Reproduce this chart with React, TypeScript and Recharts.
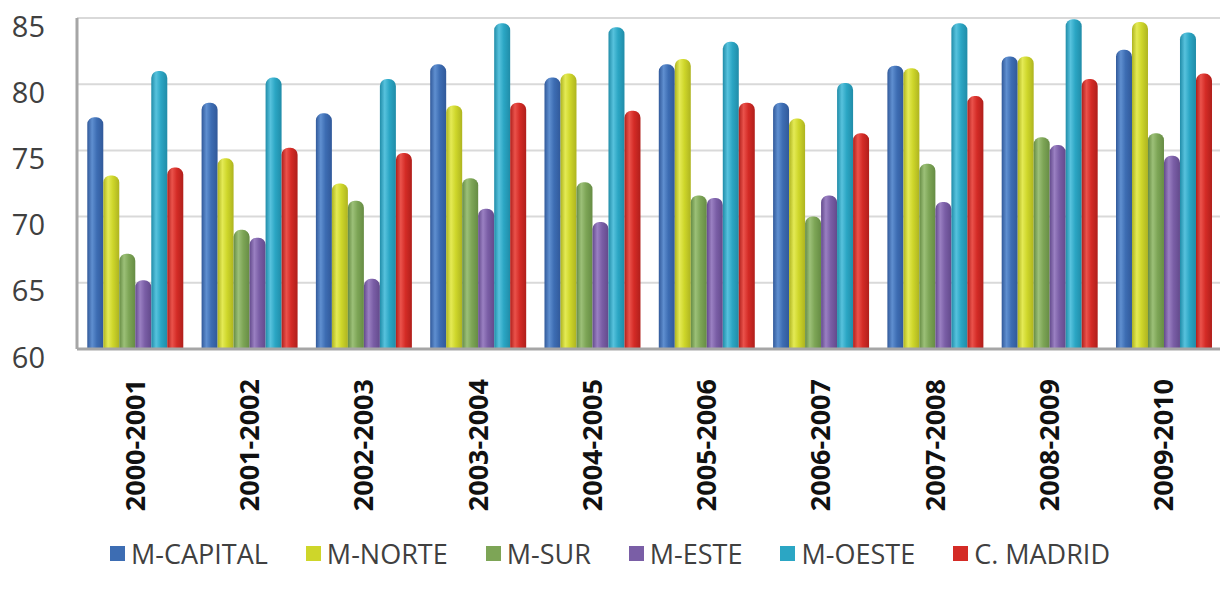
import React from "react";
import { BarChart, Bar, XAxis, YAxis, CartesianGrid, Legend } from "recharts";

const categories = ["2000-2001", "2001-2002", "2002-2003", "2003-2004", "2004-2005", "2005-2006", "2006-2007", "2007-2008", "2008-2009", "2009-2010"];
const mCapital = [77.5, 78.6, 77.8, 81.5, 80.5, 81.5, 78.6, 81.4, 82.1, 82.6];
const mNorte = [73.1, 74.4, 72.5, 78.4, 80.8, 81.9, 77.4, 81.2, 82.1, 84.7];
const mSur = [67.2, 69.0, 71.2, 72.9, 72.6, 71.6, 70.0, 74.0, 76.0, 76.3];
const mEste = [65.2, 68.4, 65.3, 70.6, 69.6, 71.4, 71.6, 71.1, 75.4, 74.6];
const mOeste = [81.0, 80.5, 80.4, 84.6, 84.3, 83.2, 80.1, 84.6, 84.9, 83.9];
const cMadrid = [73.7, 75.2, 74.8, 78.6, 78.0, 78.6, 76.3, 79.1, 80.4, 80.8];
const yTicks = [60, 65, 70, 75, 80, 85];

const seriesNames = ["M-CAPITAL", "M-NORTE", "M-SUR", "M-ESTE", "M-OESTE", "C. MADRID"];
const seriesValues = [mCapital, mNorte, mSur, mEste, mOeste, cMadrid];
const seriesKeys = ["cap", "norte", "sur", "este", "oeste", "madrid"];
const colors = ["#3D6DB3", "#CED62A", "#7DA556", "#7A5EA6", "#2BA6C4", "#D42B26"];
const lights = ["#5F8FD0", "#E4EA55", "#9CC078", "#9A80C2", "#57C2DD", "#EA524B"];
const darks = ["#31599A", "#AEB420", "#668C44", "#634A8C", "#208CA8", "#B01F1B"];

const data = categories.map((c, i) => {
  const row: any = { name: c };
  seriesKeys.forEach((k, s) => (row[k] = seriesValues[s][i]));
  return row;
});

const FONT = "'Open Sans', 'DejaVu Sans', sans-serif";

const YTick = (props: any) => {
  const { x, y, payload } = props;
  return (
    <text x={x - 24} y={y + 7} textAnchor="end" dominantBaseline="central" fontFamily={FONT} fontSize={29} fill="#404040">
      {payload.value}
    </text>
  );
};

const XTick = (props: any) => {
  const { x, y, payload } = props;
  return (
    <g transform={`translate(${x},${y + 22})`}>
      <text transform="rotate(-90)" x={0} y={0} textAnchor="end" dominantBaseline="central" fontFamily={FONT} fontSize={27} fontWeight="bold" fill="#111">
        {payload.value}
      </text>
    </g>
  );
};

const LegendContent = () => {
  return (
    <div style={{ height: 34, display: "flex", justifyContent: "center", alignItems: "center", fontFamily: FONT, fontSize: 27, color: "#404040" }}>
      {seriesNames.map((n, i) => (
        <div key={n} style={{ display: "flex", alignItems: "center", marginLeft: i === 0 ? 0 : 38 }}>
          <span style={{ width: 15, height: 15, background: colors[i], display: "inline-block", marginRight: 6 }} />
          <span>{n}</span>
        </div>
      ))}
    </div>
  );
};

export default function App() {
  return (
    <div style={{ position: "absolute", left: 0, top: 0, width: 1227, height: 594, background: "#fff" }}>
      <BarChart width={1227} height={594} data={data} margin={{ top: 18, right: 7, left: 0, bottom: 24 }} barCategoryGap="9%" barGap={0}>
        <defs>
          {seriesKeys.map((k, i) => (
            <linearGradient key={k} id={`g-${k}`} x1="0" y1="0" x2="1" y2="0">
              <stop offset="0%" stopColor={darks[i]} />
              <stop offset="30%" stopColor={lights[i]} />
              <stop offset="60%" stopColor={colors[i]} />
              <stop offset="100%" stopColor={darks[i]} />
            </linearGradient>
          ))}
        </defs>
        <CartesianGrid vertical={false} stroke="#d9d9d9" strokeWidth={2} />
        <XAxis dataKey="name" interval={0} height={187} tickLine={false} axisLine={{ stroke: "#a6a6a6", strokeWidth: 3 }} tick={<XTick />} />
        <YAxis domain={[60, 85]} ticks={yTicks} width={77} tickLine={false} axisLine={{ stroke: "#a6a6a6", strokeWidth: 3 }} tick={<YTick />} allowDataOverflow />
        <Legend verticalAlign="bottom" content={<LegendContent />} />
        {seriesKeys.map((k, i) => (
          <Bar key={k} dataKey={k} name={seriesNames[i]} fill={`url(#g-${k})`} radius={[7, 7, 0, 0]} isAnimationActive={false} />
        ))}
      </BarChart>
    </div>
  );
}
